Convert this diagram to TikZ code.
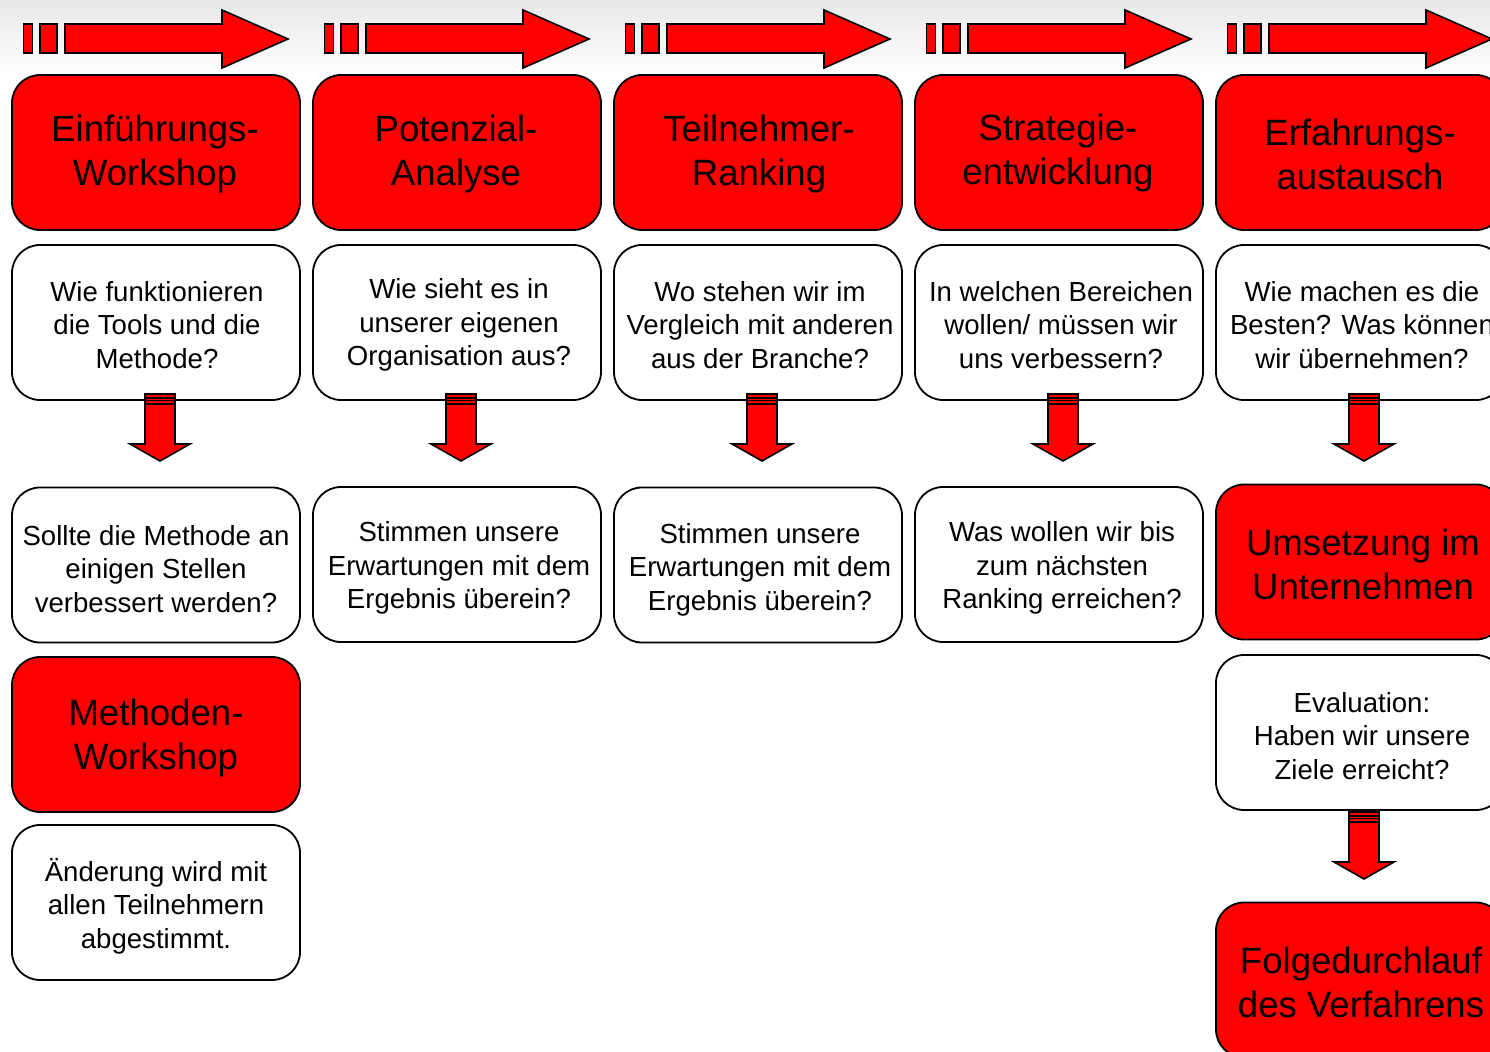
\documentclass[tikz,border=0pt]{standalone}
\usepackage{fontspec}
\setmainfont{Liberation Sans}
\usetikzlibrary{calc}
\tikzset{
  x=0.5pt,y=-0.5pt,
  edge/.style={draw=black,line width=0.9pt},
  boxred/.style={edge,fill=red,rounded corners=14pt,minimum width=144pt,minimum height=77.5pt,inner sep=0pt},
  boxwhite/.style={edge,fill=white,rounded corners=14pt,minimum width=144pt,minimum height=77.5pt,inner sep=0pt},
  titletext/.style={align=center,font=\fontsize{18.3}{22}\selectfont,inner sep=0pt},
  bodytext/.style={align=center,font=\fontsize{13.8}{16.8}\selectfont,inner sep=0pt},
  blockarrow/.style={draw=black,line width=0.8pt,fill=red,line join=miter}
}
\newcommand{\rightarrowblock}[1]{%
  \begin{scope}[xshift=#1*0.5pt]
    \draw[blockarrow] (23.5,24) rectangle (32.5,53);
    \draw[blockarrow] (40,24) rectangle (57,53);
    \draw[blockarrow] (65,24) -- (222,24) -- (222,10) -- (288,39) -- (222,68) -- (222,53) -- (65,53) -- cycle;
  \end{scope}}
\newcommand{\downarrowblock}[2]{%
  \begin{scope}[xshift=#1*0.5pt,yshift=-#2*0.5pt]
    \draw[blockarrow] (145,394) -- (175,394) -- (175,444) -- (190,444) -- (160,461) -- (130,444) -- (145,444) -- cycle;
    \draw[line width=0.8pt] (145,394)--(175,394) (145,398)--(175,398) (145,400.5)--(175,400.5) (145,404)--(175,404);
  \end{scope}}
\begin{document}
\begin{tikzpicture}
\useasboundingbox (0,0) rectangle (1490,1052);
\clip (0,0) rectangle (1490,1052);
\shade[top color=black!9,bottom color=white] (0,0) rectangle (1490,75);
% top arrows
\foreach \dx in {0,301,602,903,1204} {\rightarrowblock{\dx}}
% boxes, row 1
\node[boxred] (t1) at (156,152.5) {};
\node[boxred] (t2) at (457,152.5) {};
\node[boxred] (t3) at (758,152.5) {};
\node[boxred] (t4) at (1059,152.5) {};
\node[boxred] (t5) at (1360,152.5) {};
\node[boxwhite] (q1) at (156,322.5) {};
\node[boxwhite] (q2) at (457,322.5) {};
\node[boxwhite] (q3) at (758,322.5) {};
\node[boxwhite] (q4) at (1059,322.5) {};
\node[boxwhite] (q5) at (1360,322.5) {};
\node[boxwhite] (r1) at (156,565) {};
\node[boxwhite] (r2) at (457,564.5) {};
\node[boxwhite] (r3) at (758,565) {};
\node[boxwhite] (r4) at (1059,564.5) {};
\node[boxred] (r5) at (1360,562) {};
\node[boxred] (m1) at (156,734.5) {};
\node[boxwhite] (m5) at (1360,732.5) {};
\node[boxwhite] (a1) at (156,902.5) {};
\node[boxred] (f5) at (1360,980) {};
% down arrows
\foreach \dx in {0,301,602,903,1204} {\downarrowblock{\dx}{0}}
\downarrowblock{1204}{418}
% texts
\node[titletext] at (155,154.5) {Einführungs-\\Workshop};
\node[titletext] at (456,154.5) {Potenzial-\\Analyse};
\node[titletext] at (759,154.5) {Teilnehmer-\\Ranking};
\node[titletext] at (1058,153.5) {Strategie-\\entwicklung};
\node[titletext] at (1360,154.5) {Erfahrungs-\\austausch};
\node[titletext] at (1363,564.5) {Umsetzung im\\Unternehmen};
\node[titletext] at (156,738) {Methoden-\\Workshop};
\node[titletext] at (1361,982.5) {Folgedurchlauf\\des Verfahrens};
\node[bodytext] at (157,325) {Wie funktionieren\\die Tools und die\\Methode?};
\node[bodytext] at (459,325) {Wie sieht es in\\unserer eigenen\\Organisation aus?};
\node[bodytext] at (760,325) {Wo stehen wir im\\Vergleich mit anderen\\aus der Branche?};
\node[bodytext] at (1061,325) {In welchen Bereichen\\wollen/ müssen wir\\uns verbessern?};
\node[bodytext] at (1362,325) {Wie machen es die\\Besten? Was können\\wir übernehmen?};
\node[bodytext] at (156,569) {Sollte die Methode an\\einigen Stellen\\verbessert werden?};
\node[bodytext] at (459,568) {Stimmen unsere\\Erwartungen mit dem\\Ergebnis überein?};
\node[bodytext] at (760,569.5) {Stimmen unsere\\Erwartungen mit dem\\Ergebnis überein?};
\node[bodytext] at (1062,568) {Was wollen wir bis\\zum nächsten\\Ranking erreichen?};
\node[bodytext] at (1362,736) {Evaluation:\\Haben wir unsere\\Ziele erreicht?};
\node[bodytext] at (156,906) {Änderung wird mit\\allen Teilnehmern\\abgestimmt.};
\end{tikzpicture}
\end{document}
